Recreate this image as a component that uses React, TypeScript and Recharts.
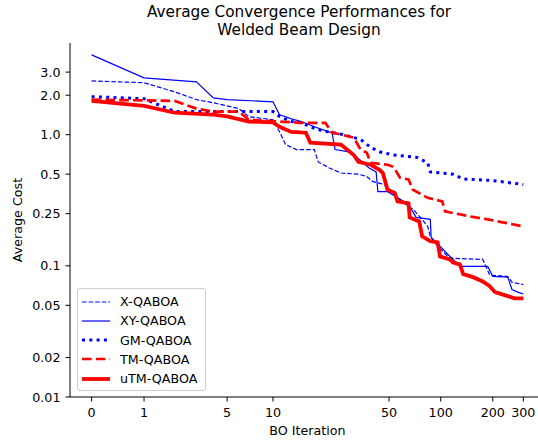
import { LineChart, Line, XAxis, YAxis, Legend } from 'recharts'

// x ticks are BO iterations, drawn on a log(1 + iteration) axis
const iterTicks = [0, 1, 5, 10, 50, 100, 200, 300]
const costTicks = [0.01, 0.02, 0.05, 0.1, 0.25, 0.5, 1.0, 2.0, 3.0]

// values: iteration -> average cost
const xIter = [0, 1, 2, 3, 4, 6, 7, 10, 11, 12, 14, 18, 19, 22, 26, 33, 37, 40, 46, 49, 56, 66, 69, 78, 84, 87, 96, 110, 118, 175, 192, 244, 258, 300]
const xCost = [2.57, 2.49, 2.12, 1.85, 1.75, 1.58, 1.37, 1.30, 1.05, 0.84, 0.77, 0.77, 0.62, 0.56, 0.51, 0.50, 0.48, 0.44, 0.42, 0.40, 0.33, 0.28, 0.27, 0.226, 0.20, 0.168, 0.141, 0.118, 0.114, 0.112, 0.085, 0.083, 0.075, 0.072]

const xyIter = [0, 1, 3, 4, 5, 10, 11, 12, 13, 15, 18, 22, 23, 24, 29, 33, 38, 42, 43, 49, 56, 65, 72, 87, 88, 99, 113, 130, 187, 200, 244, 258, 279, 300]
const xyCost = [4.06, 2.71, 2.53, 1.91, 1.85, 1.78, 1.42, 1.37, 1.32, 1.26, 1.15, 1.05, 1.035, 0.77, 0.74, 0.66, 0.56, 0.52, 0.368, 0.368, 0.332, 0.293, 0.234, 0.226, 0.165, 0.141, 0.118, 0.099, 0.099, 0.083, 0.082, 0.066, 0.063, 0.061]

const gmIter = [0, 1, 2, 10, 11, 13, 15, 17, 20, 22, 27, 34, 39, 44, 53, 73, 84, 87, 118, 135, 200, 300]
const gmCost = [1.95, 1.88, 1.50, 1.50, 1.38, 1.26, 1.23, 1.15, 1.07, 1.05, 1.0, 0.92, 0.80, 0.74, 0.70, 0.67, 0.61, 0.52, 0.50, 0.46, 0.447, 0.417]

const tmIter = [0, 2, 3, 4, 6, 7, 15, 21, 23, 31, 34, 37, 39, 49, 53, 58, 65, 69, 84, 102, 106, 148, 187, 300]
const tmCost = [1.85, 1.81, 1.58, 1.50, 1.50, 1.30, 1.23, 1.23, 1.04, 0.95, 0.77, 0.73, 0.61, 0.59, 0.57, 0.47, 0.455, 0.38, 0.33, 0.31, 0.26, 0.238, 0.226, 0.200]

const utmIter = [0, 1, 2, 4, 5, 7, 10, 11, 13, 16, 17, 26, 31, 33, 39, 44, 46, 49, 54, 56, 65, 66, 75, 78, 87, 96, 99, 113, 118, 129, 135, 154, 175, 192, 206, 244, 268, 300]
const utmCost = [1.81, 1.66, 1.47, 1.42, 1.38, 1.26, 1.24, 1.15, 1.05, 1.035, 0.87, 0.84, 0.70, 0.62, 0.59, 0.54, 0.51, 0.38, 0.36, 0.31, 0.30, 0.234, 0.218, 0.168, 0.154, 0.151, 0.118, 0.112, 0.106, 0.1026, 0.0865, 0.082, 0.076, 0.070, 0.063, 0.0587, 0.0565, 0.0565]

const FONT = "'DejaVu Sans', sans-serif"
const X_DOMAIN = [-0.124, 2.603]

const lx = (it: number) => Math.log10(it + 1)
const toPts = (iters: number[], costs: number[]) =>
  iters.map((it, i) => ({ lx: lx(it), cost: costs[i] }))

const SERIES = [
  { name: 'X-QABOA', data: toPts(xIter, xCost), color: '#0000ff', width: 1.2, dash: '4.6 2' },
  { name: 'XY-QABOA', data: toPts(xyIter, xyCost), color: '#0000ff', width: 1.2, dash: undefined },
  { name: 'GM-QABOA', data: toPts(gmIter, gmCost), color: '#0000ff', width: 3, dash: '3 4.3' },
  { name: 'TM-QABOA', data: toPts(tmIter, tmCost), color: '#ff0000', width: 2.7, dash: '9.6 4.2' },
  { name: 'uTM-QABOA', data: toPts(utmIter, utmCost), color: '#ff0000', width: 3.8, dash: undefined },
]

const tickStyle = { fill: '#000', fontSize: 12.7, fontFamily: FONT }

function LegendBox() {
  return (
    <div style={{
      width: 129, height: 103, boxSizing: 'border-box', padding: '3px 4px',
      border: '1px solid #cccccc', borderRadius: 3, background: 'rgba(255,255,255,0.8)',
      fontFamily: FONT, fontSize: 12.7, color: '#000'
    }}>
      {SERIES.map(s => (
        <div key={s.name} style={{ display: 'flex', alignItems: 'center', height: 19.25 }}>
          <svg width={28} height={8} style={{ flex: 'none' }}>
            <line x1={0} y1={4} x2={28} y2={4} stroke={s.color} strokeWidth={s.width} strokeDasharray={s.dash} />
          </svg>
          <span style={{ marginLeft: 10, whiteSpace: 'nowrap' }}>{s.name}</span>
        </div>
      ))}
    </div>
  )
}

/* eslint-disable @typescript-eslint/no-explicit-any */
function YLabel({ viewBox }: any) {
  const x = viewBox.x + 22
  const y = viewBox.y + viewBox.height / 2
  return (
    <text x={x} y={y} transform={`rotate(-90 ${x} ${y})`} textAnchor="middle" fill="#000" fontSize={12.7} fontFamily={FONT}>
      Average Cost
    </text>
  )
}
/* eslint-enable @typescript-eslint/no-explicit-any */

export default function App() {
  return (
    <div style={{ position: 'absolute', left: 0, top: 0, width: 538, height: 443, overflow: 'hidden', background: '#fff', fontFamily: FONT }}>
      {/* title */}
      <div style={{
        position: 'absolute', left: 0, top: 4, width: 598, textAlign: 'center',
        fontSize: 15.3, lineHeight: '17.5px', color: '#000', zIndex: 2
      }}>
        Average Convergence Performances for<br />Welded Beam Design
      </div>

      <LineChart width={560} height={443} margin={{ top: 43, right: 15, bottom: 8, left: 0 }}>
        <XAxis
          type="number" dataKey="lx" domain={X_DOMAIN} allowDataOverflow
          ticks={iterTicks.map(lx)}
          tickFormatter={(v: number) => String(Math.round(10 ** v - 1))}
          height={38} tickSize={4.5} tickMargin={6}
          stroke="#000" tick={tickStyle}
          label={{ value: 'BO Iteration', position: 'insideBottom', offset: 0, fill: '#000', fontSize: 12.7, fontFamily: FONT }}
        />
        <XAxis
          xAxisId="top" orientation="top" type="number" dataKey="lx" domain={X_DOMAIN} allowDataOverflow
          height={0} tick={false} tickLine={false} stroke="#000"
        />
        <YAxis
          type="number" scale="log" domain={[0.01, 5]} allowDataOverflow
          ticks={costTicks}
          tickFormatter={(v: number) => (v >= 1 ? v.toFixed(1) : String(v))}
          width={70} tickSize={4.5} tickMargin={5}
          stroke="#000" tick={tickStyle}
          label={<YLabel />}
        />
        <Legend
          layout="vertical" align="center" verticalAlign="middle"
          content={<LegendBox />}
          wrapperStyle={{ position: 'absolute', left: 77, top: 288, width: 129, height: 103 }}
        />
        {SERIES.map(s => (
          <Line
            key={s.name}
            data={s.data}
            dataKey="cost"
            name={s.name}
            type="linear"
            stroke={s.color}
            strokeWidth={s.width}
            strokeDasharray={s.dash}
            dot={false}
            activeDot={false}
            isAnimationActive={false}
          />
        ))}
      </LineChart>
    </div>
  )
}
